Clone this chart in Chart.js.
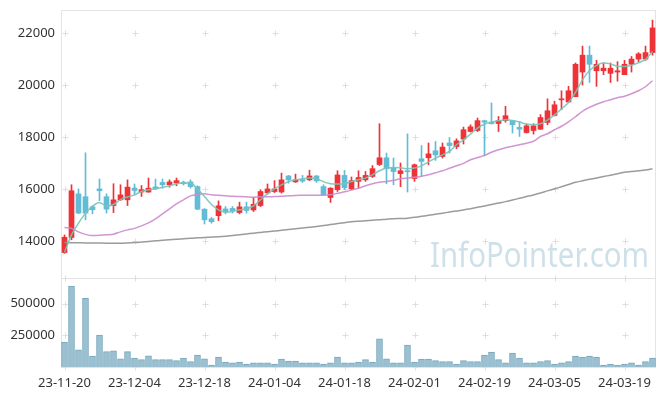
<!DOCTYPE html>
<html>
<head>
<meta charset="utf-8">
<script src="https://cdn.jsdelivr.net/npm/chart.js@4.4.1/dist/chart.umd.min.js"></script>
<style>
  html, body { margin: 0; padding: 0; background: #fff; }
  #wrap { width: 665px; height: 396px; }
</style>
</head>
<body>
<div id="wrap"><canvas id="stockChart" width="665" height="396"></canvas></div>
<script>
// trading days (KRX)
const dates = [
  '23-11-20','23-11-21','23-11-22','23-11-23','23-11-24','23-11-27','23-11-28','23-11-29','23-11-30','23-12-01',
  '23-12-04','23-12-05','23-12-06','23-12-07','23-12-08','23-12-11','23-12-12','23-12-13','23-12-14','23-12-15',
  '23-12-18','23-12-19','23-12-20','23-12-21','23-12-22','23-12-26','23-12-27','23-12-28','24-01-02','24-01-03',
  '24-01-04','24-01-05','24-01-08','24-01-09','24-01-10','24-01-11','24-01-12','24-01-15','24-01-16','24-01-17',
  '24-01-18','24-01-19','24-01-22','24-01-23','24-01-24','24-01-25','24-01-26','24-01-29','24-01-30','24-01-31',
  '24-02-01','24-02-02','24-02-05','24-02-06','24-02-07','24-02-08','24-02-13','24-02-14','24-02-15','24-02-16',
  '24-02-19','24-02-20','24-02-21','24-02-22','24-02-23','24-02-26','24-02-27','24-02-28','24-02-29','24-03-04',
  '24-03-05','24-03-06','24-03-07','24-03-08','24-03-11','24-03-12','24-03-13','24-03-14','24-03-15','24-03-18',
  '24-03-19','24-03-20','24-03-21','24-03-22','24-03-25'
];

const opens = [
  13550,14130,15810,15700,15310,16000,15700,15360,15580,15580,
  16030,15880,15880,16080,16250,16160,16230,16260,16270,16090,
  15220,14850,14970,15230,15250,15090,15310,15190,15360,15850,
  15900,15880,16500,16270,16360,16350,16500,16090,15670,15970,
  16520,16000,16290,16350,16480,16940,17200,16810,16590,16700,
  16400,17160,17200,17470,17250,17770,17630,17920,18210,18250,
  18630,18570,18520,18630,18630,18370,18170,18250,18300,18560,
  18830,19430,19350,19550,20500,21150,20550,20550,20450,20500,
  20400,20800,21000,21000,21250
];
const highs = [
  14230,16160,16000,17390,15360,16380,15810,16200,16160,16350,
  16190,16130,16420,16380,16380,16350,16420,16300,16350,16120,
  15240,14900,15540,15320,15320,15490,15490,15680,15970,16190,
  16320,16610,16520,16570,16520,16720,16520,16160,16050,16700,
  16710,16460,16700,16670,16900,18510,17380,17190,17000,18120,
  16960,17670,17770,17830,17770,17980,17930,18380,18470,18730,
  18650,19310,18790,19180,18640,18600,18500,18510,18860,19470,
  19380,19780,19950,20850,21500,21500,20950,20850,20850,20900,
  20950,21100,21250,21500,22500
];
const lows = [
  13520,14040,15050,14810,15040,15550,15070,15090,15560,15360,
  15770,15710,15870,15970,16030,16070,16120,16150,16030,15200,
  14650,14680,14780,15040,15070,15040,15070,15130,15320,15810,
  15860,15840,16220,16250,16250,16320,16250,15770,15480,15900,
  15970,15970,16030,16290,16440,16900,16200,16160,16090,15880,
  16290,16480,16930,17100,17190,17380,17550,17730,18190,18210,
  17290,18500,18210,18570,18150,18020,18150,18110,18290,18470,
  18810,19050,19330,19550,20000,20100,19950,20400,20100,20150,
  20400,20500,20900,20950,21150
];
const closes = [
  14140,15930,15070,15070,15200,15930,15220,15580,15770,16070,
  15940,15970,16030,16000,16160,16270,16320,16200,16090,15220,
  14810,14740,15350,15110,15160,15310,15170,15410,15900,16000,
  16000,16350,16350,16350,16300,16500,16310,15780,16030,16540,
  16050,16320,16440,16520,16780,17200,16780,16670,16700,16660,
  16930,17060,17350,17310,17610,17670,17850,18280,18390,18630,
  18570,18510,18630,18820,18470,18300,18430,18430,18750,19010,
  19240,19470,19780,20800,21150,20800,20800,20650,20650,20550,
  20800,21000,21200,21250,22200
];

// moving averages
const ma5 = [
  13565,14231,14680,15068,15330,15480,15340,15400,15590,15690,
  15770,15900,15966,16010,16054,16120,16197,16224,16224,15993,
  15707,15400,15195,15106,15130,15195,15233,15349,15580,15811,
  16004,16158,16274,16351,16390,16416,16390,16274,16197,16185,
  16197,16285,16351,16416,16544,16698,16802,16826,16813,16775,
  16802,16890,17045,17187,17314,17442,17700,17893,18112,18343,
  18498,18575,18625,18663,18636,18575,18498,18471,18509,18650,
  18850,19080,19330,19720,20200,20560,20760,20850,20815,20720,
  20710,20760,20860,20990,21296
];
const ma20 = [
  14513,14482,14347,14250,14204,14212,14231,14258,14347,14424,
  14482,14578,14694,14848,15041,15233,15426,15580,15734,15792,
  15811,15773,15754,15734,15715,15707,15696,15684,15696,15696,
  15707,15715,15734,15746,15754,15761,15761,15761,15773,15830,
  15888,15954,16023,16120,16197,16255,16285,16331,16390,16416,
  16447,16486,16544,16621,16698,16794,16890,16986,17122,17211,
  17287,17411,17507,17585,17642,17700,17758,17835,18020,18124,
  18278,18413,18586,18779,18991,19145,19261,19357,19434,19511,
  19569,19665,19781,19935,20166
];
const ma60 = [
  13934,13930,13925,13920,13916,13914,13912,13911,13911,13920,
  13934,13955,13978,14000,14022,14043,14065,14082,14099,14116,
  14130,14145,14160,14180,14205,14235,14265,14297,14325,14352,
  14380,14408,14436,14465,14495,14525,14551,14590,14630,14665,
  14700,14732,14755,14775,14795,14815,14836,14850,14862,14875,
  14905,14945,14983,15025,15065,15110,15150,15190,15240,15291,
  15345,15400,15455,15511,15575,15640,15705,15770,15842,15925,
  16005,16085,16170,16255,16315,16370,16420,16475,16530,16585,
  16640,16670,16698,16730,16775
];

const volumes = [
  197000,641000,136000,544000,87000,252000,121000,128000,65000,121000,
  71000,58000,89000,58000,58000,58000,50000,71000,42000,95000,
  65000,16000,79000,39000,32000,39000,24000,32000,32000,32000,
  24000,63000,47000,47000,32000,32000,32000,24000,32000,79000,
  32000,32000,39000,58000,39000,223000,65000,32000,32000,173000,
  39000,63000,63000,50000,42000,42000,24000,50000,42000,42000,
  95000,118000,58000,32000,110000,71000,32000,32000,42000,50000,
  24000,32000,42000,87000,79000,87000,79000,16000,24000,16000,
  24000,32000,16000,42000,71000
];

const priceTicks = [14000, 16000, 18000, 20000, 22000];
const volumeTicks = [250000, 500000];

const upColor = '#ee3338';
const downColor = '#62bcd6';

// candle pieces as floating bars
const bodies = opens.map((o, i) => [o, closes[i]]);
const wicks = lows.map((l, i) => [l, highs[i]]);
const candleColors = closes.map((c, i) => c >= opens[i] ? upColor : downColor);

const tickFont = { family: '"Noto Sans", "DejaVu Sans", sans-serif', size: 13 };

// no extra label padding, the plot area is placed by hand
const noPad = s => { s.paddingTop = 0; s.paddingBottom = 0; s.paddingLeft = 0; s.paddingRight = 0; };

// borders, little grid crosses and the watermark
const panelDecor = {
  id: 'panelDecor',
  beforeDatasetsDraw(chart) {
    const ctx = chart.ctx;
    const area = chart.chartArea;
    const xs = chart.scales.x;
    ctx.save();
    ctx.font = '35px "Noto Sans", sans-serif';
    ctx.fillStyle = 'rgba(190, 213, 226, 0.75)';
    ctx.textBaseline = 'alphabetic';
    ctx.fillText('InfoPointer.com', 430, 267, 219);

    ctx.strokeStyle = '#e4e4e4';
    ctx.lineWidth = 1;
    ['y', 'yv'].forEach(id => {
      const s = chart.scales[id];
      ctx.strokeRect(Math.round(area.left) + 0.5, Math.round(s.top) + 0.5,
        Math.round(area.right - area.left) - 1, Math.round(s.bottom - s.top));
    });

    ctx.strokeStyle = '#dedede';
    const cross = (x, y) => {
      x = Math.round(x) + 0.5; y = Math.round(y) + 0.5;
      ctx.beginPath();
      ctx.moveTo(x - 3, y); ctx.lineTo(x + 3, y);
      ctx.moveTo(x, y - 3); ctx.lineTo(x, y + 3);
      ctx.stroke();
    };
    for (let i = 0; i < dates.length; i += 10) {
      const x = xs.getPixelForValue(i);
      priceTicks.forEach(v => cross(x, chart.scales.y.getPixelForValue(v)));
      volumeTicks.forEach(v => cross(x, chart.scales.yv.getPixelForValue(v)));
      cross(x, chart.scales.y.bottom);
      cross(x, chart.scales.yv.bottom);
    }
    ctx.restore();
  }
};

// Creates the chart
const ctx = document.getElementById('stockChart').getContext('2d');
new Chart(ctx, {
  type: 'bar',
  data: {
    labels: dates,
    datasets: [
      { type: 'line', label: 'MA5', data: ma5, yAxisID: 'y', borderColor: 'rgba(120,196,184,0.9)',
        borderWidth: 1.5, pointRadius: 0, tension: 0.4, cubicInterpolationMode: 'monotone' },
      { type: 'line', label: 'MA20', data: ma20, yAxisID: 'y', borderColor: 'rgba(204,138,204,0.9)',
        borderWidth: 1.5, pointRadius: 0, tension: 0.4, cubicInterpolationMode: 'monotone' },
      { type: 'line', label: 'MA60', data: ma60, yAxisID: 'y', borderColor: 'rgba(150,150,150,0.95)',
        borderWidth: 1.5, pointRadius: 0, tension: 0.4, cubicInterpolationMode: 'monotone' },
      { label: 'Body', data: bodies, yAxisID: 'y', backgroundColor: candleColors,
        barThickness: 5, grouped: false, borderSkipped: false },
      { label: 'Wick', data: wicks, yAxisID: 'y', backgroundColor: candleColors,
        barThickness: 1, grouped: false },
      { label: 'Volume', data: volumes, yAxisID: 'yv', backgroundColor: '#9bc0d1',
        borderColor: '#76a6bb', borderWidth: 1, barThickness: 6, grouped: false }
    ]
  },
  options: {
    responsive: false,
    animation: false,
    layout: { padding: { top: 10, right: 9, left: 0, bottom: 0 } },
    plugins: { legend: { display: false }, tooltip: { enabled: false } },
    scales: {
      x: {
        grid: { display: false },
        border: { display: false },
        ticks: {
          autoSkip: false, maxRotation: 0, minRotation: 0, padding: 0,
          color: '#333', font: tickFont,
          callback: (val, idx) => idx % 10 === 0 ? dates[idx] : ''
        },
        afterFit: s => { noPad(s); s.height = 29; }
      },
      yv: {
        position: 'left', stack: 'panels', stackWeight: 89,
        min: 0, max: 704000,
        grid: { display: false, drawTicks: false },
        border: { display: false },
        ticks: { padding: 6, color: '#333', font: tickFont, callback: v => String(v) },
        afterBuildTicks: s => { s.ticks = volumeTicks.map(v => ({ value: v })); },
        afterFit: s => { noPad(s); s.width = 61; }
      },
      y: {
        position: 'left', stack: 'panels', stackWeight: 268,
        min: 12570, max: 22890,
        grid: { display: false, drawTicks: false },
        border: { display: false },
        ticks: { padding: 6, color: '#333', font: tickFont, callback: v => String(v) },
        afterBuildTicks: s => { s.ticks = priceTicks.map(v => ({ value: v })); },
        afterFit: s => { noPad(s); s.width = 61; }
      }
    }
  },
  plugins: [panelDecor]
});
</script>
</body>
</html>
